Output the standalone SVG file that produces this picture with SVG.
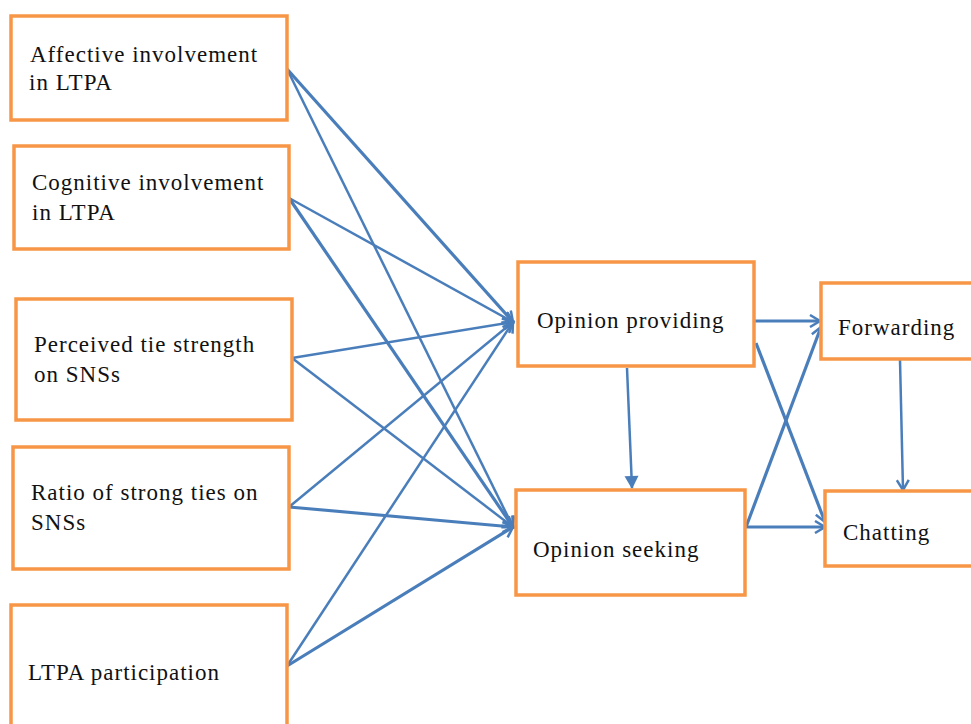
<svg xmlns="http://www.w3.org/2000/svg" width="971" height="724" viewBox="0 0 971 724">
<style>
.box{fill:#fff;stroke:#f79646;stroke-width:3.5}
.t{font-family:"Liberation Serif","DejaVu Serif",serif;font-size:23px;fill:#111;letter-spacing:1px}
.s{font-family:"DejaVu Serif",serif}
.c{fill:none;stroke:#4a7ebb;stroke-width:2.5}
.k{stroke-width:3.2}
</style>
<defs>
<marker id="open" markerWidth="14" markerHeight="14" refX="11" refY="7" orient="auto" markerUnits="userSpaceOnUse">
<path d="M1,1 L11,7 L1,13" fill="none" stroke="#4a7ebb" stroke-width="2.5"/>
</marker>
<marker id="fill" markerWidth="16" markerHeight="16" refX="13" refY="8" orient="auto" markerUnits="userSpaceOnUse">
<path d="M1,1 L14,8 L1,15 Z" fill="#4a7ebb"/>
</marker>
</defs>
<g id="connectors">
<line class="c k" x1="287" y1="69" x2="513" y2="322" marker-end="url(#open)"/>
<line class="c" x1="287" y1="69" x2="513" y2="527" marker-end="url(#open)"/>
<line class="c" x1="289" y1="198" x2="513" y2="322" marker-end="url(#open)"/>
<line class="c k" x1="289" y1="198" x2="513" y2="527" marker-end="url(#open)"/>
<line class="c" x1="292" y1="358" x2="513" y2="322" marker-end="url(#open)"/>
<line class="c" x1="292" y1="358" x2="513" y2="527" marker-end="url(#open)"/>
<line class="c" x1="289" y1="507" x2="513" y2="322" marker-end="url(#open)"/>
<line class="c k" x1="289" y1="507" x2="513" y2="527" marker-end="url(#open)"/>
<line class="c" x1="287" y1="666" x2="513" y2="322" marker-end="url(#open)"/>
<line class="c k" x1="287" y1="666" x2="513" y2="527" marker-end="url(#open)"/>
<line class="c" x1="627" y1="368" x2="632" y2="488" marker-end="url(#fill)"/>
<line class="c k" x1="755" y1="321" x2="820" y2="321" marker-end="url(#open)"/>
<line class="c k" x1="756" y1="343" x2="825" y2="522" marker-end="url(#open)"/>
<line class="c k" x1="746" y1="527" x2="821" y2="327" marker-end="url(#open)"/>
<line class="c k" x1="746" y1="527" x2="825" y2="527" marker-end="url(#open)"/>
<line class="c" x1="900" y1="360" x2="903" y2="490" marker-end="url(#open)"/>
</g>
<g id="affective"><rect class="box" x="11" y="16" width="276" height="104"/><text class="t" x="30" y="62">Affective involvement</text><text class="t" x="29" y="90">in LTPA</text></g>
<g id="cognitive"><rect class="box" x="14" y="146" width="275" height="103"/><text class="t" x="32" y="190">Cognitive involvement</text><text class="t" x="32" y="220">in LTPA</text></g>
<g id="perceived"><rect class="box" x="16" y="299" width="276" height="121"/><text class="t" x="34" y="352">Perceived tie strength</text><text class="t" x="34" y="382">on SNSs</text></g>
<g id="ratio"><rect class="box" x="13" y="447" width="276" height="122"/><text class="t" x="31" y="500">Ratio of strong ties on</text><text class="t" x="31" y="530">SNSs</text></g>
<g id="ltpa"><rect class="box" x="11" y="605" width="276" height="130"/><text class="t" x="28" y="680">LTPA participation</text></g>
<g id="providing"><rect class="box" x="518" y="262" width="236" height="104"/><text class="t" x="537" y="328">Opinion providing</text></g>
<g id="seeking"><rect class="box" x="516" y="490" width="229" height="105"/><text class="t" x="533" y="557">Opinion seeking</text></g>
<g id="forwarding"><rect class="box" x="821" y="283" width="160" height="76"/><text class="t" x="838" y="335">Forwarding</text></g>
<g id="chatting"><rect class="box" x="825" y="491" width="156" height="75"/><text class="t" x="843" y="540">Chatting</text></g>
</svg>
